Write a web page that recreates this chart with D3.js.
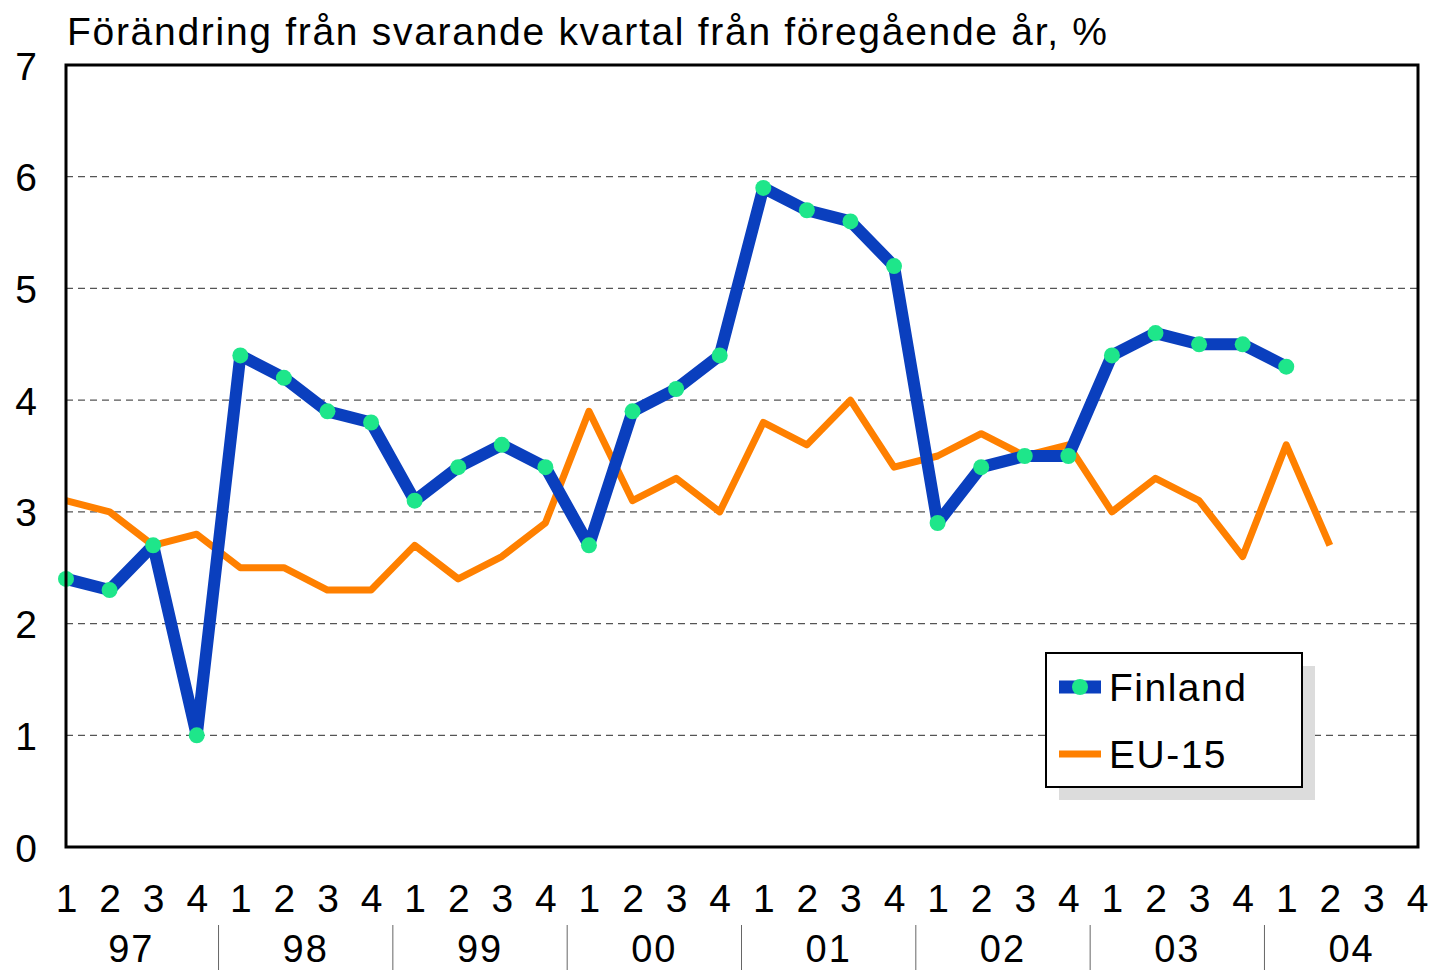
<!DOCTYPE html>
<html>
<head>
<meta charset="utf-8">
<script src="https://cdn.jsdelivr.net/npm/d3@7"></script>
<style>
  body { margin: 0; background: #fff; }
  svg { display: block; font-family: "Liberation Sans", Arial, Helvetica, sans-serif; }
</style>
</head>
<body>
<div id="chart"></div>
<script>
// data
const years = ['97', '98', '99', '00', '01', '02', '03', '04'];
const quarters = ['1', '2', '3', '4'];
const finland = [
  2.4, 2.3, 2.7, 1.0,
  4.4, 4.2, 3.9, 3.8,
  3.1, 3.4, 3.6, 3.4,
  2.7, 3.9, 4.1, 4.4,
  5.9, 5.7, 5.6, 5.2,
  2.9, 3.4, 3.5, 3.5,
  4.4, 4.6, 4.5, 4.5,
  4.3, null, null, null
];
const eu15 = [
  3.1, 3.0, 2.7, 2.8,
  2.5, 2.5, 2.3, 2.3,
  2.7, 2.4, 2.6, 2.9,
  3.9, 3.1, 3.3, 3.0,
  3.8, 3.6, 4.0, 3.4,
  3.5, 3.7, 3.5, 3.6,
  3.0, 3.3, 3.1, 2.6,
  3.6, 2.7, null, null
];
const yTicks = [0, 1, 2, 3, 4, 5, 6, 7];
const titleText = 'Förändring från svarande kvartal från föregående år, %';

const svgWidth = 1434;
const svgHeight = 970;
const margin = {top: 65, right: 16, bottom: 123, left: 66};
const width = svgWidth - margin.left - margin.right;
const height = svgHeight - margin.top - margin.bottom;

const blue = '#0a3fbe';
const green = '#1ee68a';
const orange = '#ff8000';

const svg = d3.select('#chart')
    .append('svg')
    .attr('width', svgWidth)
    .attr('height', svgHeight);

const chartGroup = svg.append('g')
    .attr('transform', `translate(${margin.left}, ${margin.top})`);

// one slot per quarter
const slots = d3.range(years.length * quarters.length);

const x = d3.scalePoint()
    .domain(slots)
    .range([0, width - 1]);

const y = d3.scaleLinear()
    .domain([0, 7])
    .range([height, 0]);

// dashed gridlines
chartGroup.append('g')
    .selectAll('line')
    .data(yTicks.filter(t => t > 0 && t < 7))
    .join('line')
    .attr('x1', 0)
    .attr('x2', width)
    .attr('y1', d => y(d))
    .attr('y2', d => y(d))
    .attr('stroke', '#555')
    .attr('stroke-width', 1.3)
    .attr('stroke-dasharray', '7,5');

// y axis labels
const yAxis = chartGroup.append('g')
    .attr('transform', 'translate(-29, 0)')
    .call(d3.axisLeft(y).tickValues(yTicks).tickSize(0).tickPadding(0).tickFormat(d3.format('d')));
yAxis.select('.domain').remove();
yAxis.selectAll('text')
    .attr('fill', '#000')
    .attr('dy', '0.36em')
    .style('font-size', '39px');

// quarter labels
const xAxis = chartGroup.append('g')
    .attr('transform', `translate(0, ${height})`)
    .call(d3.axisBottom(x).tickSize(0).tickPadding(0).tickFormat(i => quarters[i % 4]));
xAxis.select('.domain').remove();
xAxis.selectAll('text')
    .attr('fill', '#000')
    .attr('y', 65)
    .attr('dy', 0)
    .style('font-size', '39px');

// year labels and separators
const step = x.step();
const yearGroup = chartGroup.append('g')
    .attr('transform', `translate(0, ${height})`);

yearGroup.selectAll('text')
    .data(years)
    .join('text')
    .attr('x', (d, i) => (x(i * 4) + x(i * 4 + 3)) / 2)
    .attr('y', 115)
    .attr('text-anchor', 'middle')
    .style('font-size', '38px')
    .style('letter-spacing', '2px')
    .text(d => d);

yearGroup.selectAll('line')
    .data(years.slice(1))
    .join('line')
    .attr('x1', (d, i) => x((i + 1) * 4) - step / 2)
    .attr('x2', (d, i) => x((i + 1) * 4) - step / 2)
    .attr('y1', 78)
    .attr('y2', 123)
    .attr('stroke', '#666')
    .attr('stroke-width', 1);

// lines
const line = d3.line()
    .defined(d => d != null)
    .x((d, i) => x(i))
    .y(d => y(d));

chartGroup.append('path')
    .datum(eu15)
    .attr('fill', 'none')
    .attr('stroke', orange)
    .attr('stroke-width', 7)
    .attr('stroke-linejoin', 'round')
    .attr('d', line);

chartGroup.append('path')
    .datum(finland)
    .attr('fill', 'none')
    .attr('stroke', blue)
    .attr('stroke-width', 12)
    .attr('stroke-linejoin', 'round')
    .attr('d', line);

chartGroup.selectAll('circle.fin')
    .data(finland.map((v, i) => ({v, i})).filter(d => d.v != null))
    .join('circle')
    .classed('fin', true)
    .attr('cx', d => x(d.i))
    .attr('cy', d => y(d.v))
    .attr('r', 8)
    .attr('fill', green);

// plot frame
chartGroup.append('rect')
    .attr('x', 0)
    .attr('y', 0)
    .attr('width', width)
    .attr('height', height)
    .attr('fill', 'none')
    .attr('stroke', '#000')
    .attr('stroke-width', 3);

// title
svg.append('text')
    .attr('x', 67)
    .attr('y', 45)
    .attr('textLength', 1040)
    .attr('lengthAdjust', 'spacing')
    .style('font-size', '39px')
    .text(titleText);

// legend
const legend = svg.append('g').attr('transform', 'translate(1046, 653)');
legend.append('rect')
    .attr('x', 13).attr('y', 13)
    .attr('width', 256).attr('height', 134)
    .attr('fill', '#dcdcdc');
legend.append('rect')
    .attr('width', 256).attr('height', 134)
    .attr('fill', '#fff')
    .attr('stroke', '#000')
    .attr('stroke-width', 2);

const legendItems = [
  {label: 'Finland', color: blue, width: 13, marker: true, cy: 34},
  {label: 'EU-15', color: orange, width: 7, marker: false, cy: 101}
];
const items = legend.selectAll('g.item')
    .data(legendItems)
    .join('g')
    .classed('item', true)
    .attr('transform', d => `translate(0, ${d.cy})`);
items.append('line')
    .attr('x1', 13).attr('x2', 55)
    .attr('stroke', d => d.color)
    .attr('stroke-width', d => d.width);
items.filter(d => d.marker).append('circle')
    .attr('cx', 34).attr('r', 8).attr('fill', green);
items.append('text')
    .attr('x', 63)
    .attr('dy', '0.36em')
    .style('font-size', '39px')
    .style('letter-spacing', '1.5px')
    .text(d => d.label);
</script>
</body>
</html>
